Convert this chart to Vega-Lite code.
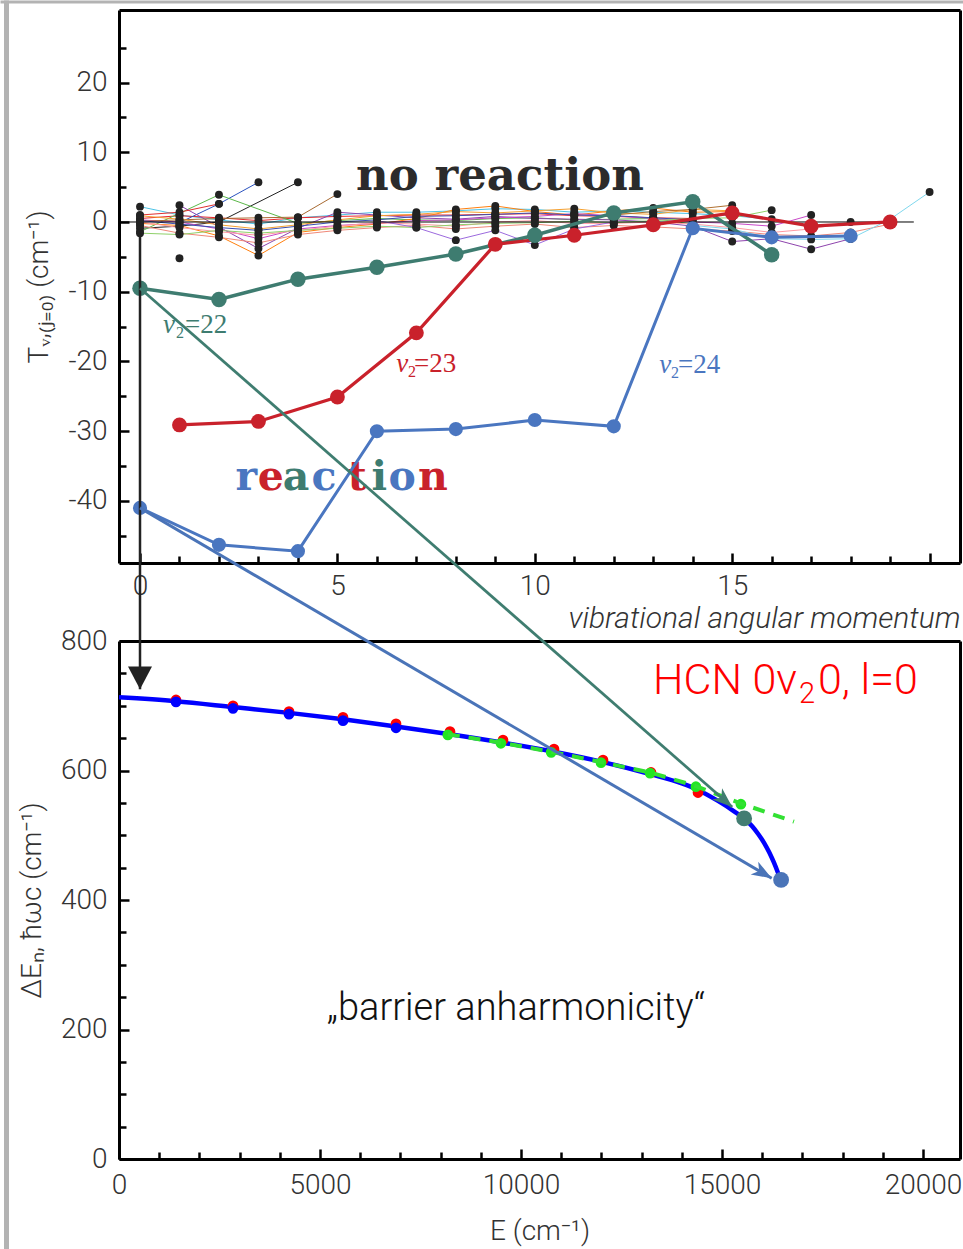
{
"$schema": "https://vega.github.io/schema/vega-lite/v6.json",
"width": 841, "height": 1149,
"autosize": {"type": "none"},
"padding": {"left": 119, "top": 10, "right": 3, "bottom": 90},
"background": "white",
"config": {
  "view": {"stroke": null},
  "axis": {"grid": false, "labelFont": "Roboto", "labelFontWeight": 300, "labelFontSize": 28, "labelColor": "#333333", "titleFont": "Roboto", "titleFontWeight": 300, "titleFontSize": 28, "titleColor": "#333333", "domainColor": "#000000", "domainWidth": 3, "tickColor": "#000000", "tickWidth": 2.5, "labelFlush": false, "labelOverlap": false}
},
"datasets": {
  "noise": [
    {"s":"c1","l":0,"T":2.2},{"s":"c1","l":1,"T":1.0},{"s":"c1","l":2,"T":0.3},{"s":"c1","l":3,"T":-0.3},{"s":"c1","l":4,"T":0.6},{"s":"c1","l":5,"T":1.0},{"s":"c1","l":6,"T":1.4},{"s":"c1","l":7,"T":1.4},{"s":"c1","l":8,"T":1.6},{"s":"c1","l":9,"T":1.9},{"s":"c1","l":10,"T":1.8},{"s":"c1","l":11,"T":1.4},{"s":"c1","l":12,"T":1.6},{"s":"c1","l":13,"T":1.4},{"s":"c1","l":14,"T":1.2},{"s":"c1","l":15,"T":0.9},{"s":"c1","l":16,"T":0.4},
    {"s":"r1","l":0,"T":0.5},{"s":"r1","l":1,"T":0.9},{"s":"r1","l":2,"T":0.6},{"s":"r1","l":3,"T":0.2},{"s":"r1","l":4,"T":0.6},{"s":"r1","l":5,"T":0.8},{"s":"r1","l":6,"T":0.9},{"s":"r1","l":7,"T":1.0},{"s":"r1","l":8,"T":1.0},{"s":"r1","l":9,"T":1.1},{"s":"r1","l":10,"T":1.2},{"s":"r1","l":11,"T":0.9},{"s":"r1","l":12,"T":0.8},{"s":"r1","l":13,"T":0.6},{"s":"r1","l":14,"T":0.5},
    {"s":"b1","l":1,"T":-0.1},{"s":"b1","l":2,"T":2.6},{"s":"b1","l":3,"T":5.7},
    {"s":"k1","l":0,"T":-0.9},{"s":"k1","l":1,"T":-0.6},{"s":"k1","l":2,"T":0.0},{"s":"k1","l":4,"T":5.7},
    {"s":"g1","l":0,"T":-1.4},{"s":"g1","l":2,"T":3.9},{"s":"g1","l":4,"T":-0.2},{"s":"g1","l":5,"T":0.2},{"s":"g1","l":6,"T":0.5},{"s":"g1","l":7,"T":0.3},{"s":"g1","l":8,"T":0.2},{"s":"g1","l":9,"T":0.5},{"s":"g1","l":10,"T":0.6},{"s":"g1","l":11,"T":0.3},{"s":"g1","l":12,"T":0.4},{"s":"g1","l":13,"T":0.5},{"s":"g1","l":14,"T":-0.3},
    {"s":"o1","l":0,"T":-0.2},{"s":"o1","l":1,"T":-0.5},{"s":"o1","l":2,"T":-2.0},{"s":"o1","l":3,"T":-4.8},{"s":"o1","l":4,"T":-1.5},{"s":"o1","l":5,"T":-0.8},{"s":"o1","l":6,"T":-0.3},{"s":"o1","l":7,"T":0.5},{"s":"o1","l":8,"T":1.8},{"s":"o1","l":9,"T":2.3},{"s":"o1","l":10,"T":1.5},{"s":"o1","l":11,"T":1.0},{"s":"o1","l":12,"T":1.6},{"s":"o1","l":13,"T":2.0},{"s":"o1","l":14,"T":1.4},{"s":"o1","l":15,"T":1.5},
    {"s":"p1","l":1,"T":2.4},{"s":"p1","l":3,"T":-3.8},{"s":"p1","l":4,"T":-0.9},{"s":"p1","l":5,"T":1.4},{"s":"p1","l":6,"T":1.0},{"s":"p1","l":7,"T":0.6},{"s":"p1","l":8,"T":0.4},{"s":"p1","l":9,"T":0.8},{"s":"p1","l":10,"T":0.5},{"s":"p1","l":11,"T":0.4},{"s":"p1","l":12,"T":0.3},{"s":"p1","l":13,"T":0.0},{"s":"p1","l":14,"T":-0.6},{"s":"p1","l":15,"T":-2.8},{"s":"p1","l":16,"T":-2.4},{"s":"p1","l":17,"T":-3.9},{"s":"p1","l":18,"T":-2.4},
    {"s":"m1","l":0,"T":0.3},{"s":"m1","l":1,"T":0.0},{"s":"m1","l":2,"T":-1.0},{"s":"m1","l":3,"T":-2.4},{"s":"m1","l":4,"T":-1.0},{"s":"m1","l":5,"T":-0.5},{"s":"m1","l":6,"T":-0.2},{"s":"m1","l":7,"T":0.2},{"s":"m1","l":8,"T":0.3},{"s":"m1","l":9,"T":0.6},{"s":"m1","l":10,"T":0.8},{"s":"m1","l":11,"T":1.2},{"s":"m1","l":12,"T":0.9},{"s":"m1","l":13,"T":0.5},{"s":"m1","l":14,"T":0.0},{"s":"m1","l":15,"T":-0.2},{"s":"m1","l":16,"T":-0.6},{"s":"m1","l":17,"T":1.0},
    {"s":"br","l":0,"T":0.1},{"s":"br","l":1,"T":0.3},{"s":"br","l":2,"T":0.5},{"s":"br","l":3,"T":0.6},{"s":"br","l":4,"T":0.7},{"s":"br","l":5,"T":4.0},
    {"s":"sa","l":0,"T":-0.5},{"s":"sa","l":1,"T":-1.6},{"s":"sa","l":2,"T":-2.2},{"s":"sa","l":3,"T":-3.0},{"s":"sa","l":4,"T":-1.8},{"s":"sa","l":5,"T":-1.2},{"s":"sa","l":6,"T":-0.8},{"s":"sa","l":7,"T":-0.5},{"s":"sa","l":8,"T":-1.0},{"s":"sa","l":9,"T":-0.6},{"s":"sa","l":10,"T":-0.3},{"s":"sa","l":11,"T":-0.8},{"s":"sa","l":12,"T":-0.5},{"s":"sa","l":13,"T":-0.7},{"s":"sa","l":14,"T":-1.0},{"s":"sa","l":15,"T":-1.3},{"s":"sa","l":16,"T":-1.8},{"s":"sa","l":17,"T":-2.0},{"s":"sa","l":18,"T":-1.5},{"s":"sa","l":19,"T":-0.3},
    {"s":"pk","l":0,"T":0.0},{"s":"pk","l":1,"T":-0.8},{"s":"pk","l":2,"T":-1.4},{"s":"pk","l":3,"T":-1.9},{"s":"pk","l":4,"T":-1.2},{"s":"pk","l":5,"T":-0.6},{"s":"pk","l":6,"T":-0.1},{"s":"pk","l":7,"T":-0.3},{"s":"pk","l":8,"T":-0.6},{"s":"pk","l":9,"T":0.0},{"s":"pk","l":10,"T":0.2},{"s":"pk","l":11,"T":-0.2},{"s":"pk","l":12,"T":-0.2},{"s":"pk","l":13,"T":0.0},{"s":"pk","l":14,"T":-0.3},{"s":"pk","l":15,"T":-0.8},{"s":"pk","l":16,"T":-1.5},{"s":"pk","l":17,"T":-1.0},{"s":"pk","l":18,"T":0.0},
    {"s":"db","l":0,"T":0.2},{"s":"db","l":1,"T":-0.3},{"s":"db","l":2,"T":-0.8},{"s":"db","l":3,"T":-1.2},{"s":"db","l":4,"T":-0.6},{"s":"db","l":5,"T":0.0},{"s":"db","l":6,"T":0.3},{"s":"db","l":7,"T":0.8},{"s":"db","l":8,"T":0.9},{"s":"db","l":9,"T":1.1},{"s":"db","l":10,"T":1.3},{"s":"db","l":11,"T":1.0},{"s":"db","l":12,"T":0.9},{"s":"db","l":13,"T":0.6},{"s":"db","l":14,"T":0.3},
    {"s":"lg","l":0,"T":-1.6},{"s":"lg","l":1,"T":-1.8},{"s":"lg","l":2,"T":-1.2},{"s":"lg","l":3,"T":-1.6},{"s":"lg","l":4,"T":-1.2},{"s":"lg","l":5,"T":-0.9},{"s":"lg","l":6,"T":-0.6},{"s":"lg","l":7,"T":-0.8},{"s":"lg","l":8,"T":-0.4},{"s":"lg","l":9,"T":-0.2},{"s":"lg","l":10,"T":-0.1},{"s":"lg","l":11,"T":0.1},{"s":"lg","l":12,"T":-0.1},{"s":"lg","l":13,"T":0.2},{"s":"lg","l":14,"T":0.5},{"s":"lg","l":15,"T":0.6},{"s":"lg","l":16,"T":1.7},
    {"s":"c2","l":14,"T":-0.5},{"s":"c2","l":15,"T":-1.0},{"s":"c2","l":16,"T":-2.4},{"s":"c2","l":17,"T":-2.5},{"s":"c2","l":18,"T":-2.4},{"s":"c2","l":19,"T":0.4},{"s":"c2","l":20,"T":4.3},
    {"s":"o2","l":0,"T":0.9},{"s":"o2","l":1,"T":0.4},{"s":"o2","l":2,"T":-0.4},{"s":"o2","l":3,"T":-1.0},{"s":"o2","l":4,"T":-0.4},{"s":"o2","l":5,"T":0.3},{"s":"o2","l":6,"T":0.9},{"s":"o2","l":7,"T":1.1},{"s":"o2","l":8,"T":1.5},{"s":"o2","l":9,"T":1.3},{"s":"o2","l":10,"T":1.6},{"s":"o2","l":11,"T":1.9},{"s":"o2","l":12,"T":1.3},{"s":"o2","l":13,"T":1.1},{"s":"o2","l":14,"T":1.8},{"s":"o2","l":15,"T":1.6},
    {"s":"r2","l":0,"T":1.0},{"s":"r2","l":1,"T":1.4},{"s":"r2","l":2,"T":2.6},
    {"s":"lv","l":6,"T":0.2},{"s":"lv","l":7,"T":-0.8},{"s":"lv","l":8,"T":-2.6},{"s":"lv","l":9,"T":-1.2},{"s":"lv","l":10,"T":-3.3},{"s":"lv","l":11,"T":-1.0},{"s":"lv","l":12,"T":0.0},
    {"s":"k2","l":1,"T":-5.2},
    {"s":"br2","l":12,"T":1.0},{"s":"br2","l":13,"T":1.5},{"s":"br2","l":14,"T":1.8},{"s":"br2","l":15,"T":2.4}
  ],
  "major": [
    {"s":"22","l":0,"T":-9.5},{"s":"22","l":2,"T":-11.1},{"s":"22","l":4,"T":-8.2},{"s":"22","l":6,"T":-6.5},{"s":"22","l":8,"T":-4.6},{"s":"22","l":10,"T":-1.9},{"s":"22","l":12,"T":1.3},{"s":"22","l":14,"T":2.9},{"s":"22","l":16,"T":-4.7},
    {"s":"23","l":1,"T":-29.1},{"s":"23","l":3,"T":-28.6},{"s":"23","l":5,"T":-25.1},{"s":"23","l":7,"T":-15.9},{"s":"23","l":9,"T":-3.2},{"s":"23","l":11,"T":-1.9},{"s":"23","l":13,"T":-0.4},{"s":"23","l":15,"T":1.3},{"s":"23","l":17,"T":-0.6},{"s":"23","l":19,"T":0.0},
    {"s":"24","l":0,"T":-41.0},{"s":"24","l":2,"T":-46.3},{"s":"24","l":4,"T":-47.2},{"s":"24","l":6,"T":-30.0},{"s":"24","l":8,"T":-29.7},{"s":"24","l":10,"T":-28.4},{"s":"24","l":12,"T":-29.3},{"s":"24","l":14,"T":-0.9},{"s":"24","l":16,"T":-2.2},{"s":"24","l":18,"T":-2.0}
  ],
  "curve": [
    {"E":0,"D":713},{"E":1418,"D":707},{"E":2836,"D":698},{"E":4229,"D":689},{"E":5572,"D":679},{"E":6891,"D":668},{"E":8234,"D":656},{"E":9552,"D":643},{"E":10821,"D":629},{"E":12040,"D":613},{"E":13234,"D":594},{"E":14000,"D":580},{"E":14403,"D":570},{"E":14900,"D":553},{"E":15300,"D":537},{"E":15550,"D":526},{"E":15750,"D":514},{"E":15900,"D":502},{"E":16050,"D":488},{"E":16180,"D":473},{"E":16290,"D":458},{"E":16380,"D":444},{"E":16470,"D":428}
  ],
  "pts": [
    {"k":"red","E":1418,"D":709},{"k":"red","E":2836,"D":700},{"k":"red","E":4229,"D":691},{"k":"red","E":5572,"D":682},{"k":"red","E":6891,"D":672},{"k":"red","E":8234,"D":660},{"k":"red","E":9552,"D":647},{"k":"red","E":10821,"D":633},{"k":"red","E":12040,"D":616},{"k":"red","E":13234,"D":597},{"k":"red","E":14403,"D":566},
    {"k":"blue","E":1418,"D":706},{"k":"blue","E":2836,"D":696},{"k":"blue","E":4229,"D":687},{"k":"blue","E":5572,"D":677},{"k":"blue","E":6891,"D":666},
    {"k":"green","E":8180,"D":655},{"k":"green","E":9500,"D":642},{"k":"green","E":10750,"D":628},{"k":"green","E":11990,"D":612},{"k":"green","E":13210,"D":596},{"k":"green","E":14350,"D":575},{"k":"green","E":15470,"D":548}
  ],
  "dash": [
    {"E":8180,"D":656},{"E":9500,"D":643},{"E":10750,"D":629},{"E":11990,"D":613},{"E":13210,"D":597},{"E":14350,"D":576},{"E":15470,"D":549},{"E":16790,"D":521}
  ],
  "big": [{"k":"teal","E":15550,"D":526},{"k":"blue","E":16470,"D":431}],
  "arrows": [
    {"a":"k","l":0,"T":-1.6,"l2":0,"T2":-67.0},
    {"a":"g","l":0,"T":-9.5,"l2":15.0,"T2":-83.9},
    {"a":"b","l":0,"T":-41.0,"l2":16.0,"T2":-94.1}
  ],
  "letters": [
    {"ch":"r","l":2.69,"T":-38.45,"c":"24"},{"ch":"e","l":3.31,"T":-38.45,"c":"23"},{"ch":"a","l":3.95,"T":-38.45,"c":"22"},{"ch":"c","l":4.66,"T":-38.45,"c":"24"},{"ch":"t","l":5.5,"T":-38.45,"c":"23"},{"ch":"i","l":6.06,"T":-38.45,"c":"22"},{"ch":"o","l":6.64,"T":-38.45,"c":"24"},{"ch":"n","l":7.42,"T":-38.45,"c":"23"}
  ],
  "vlab": [
    {"p":"v","txt":"v","l":0.58,"T":-15.9,"c":"22"},{"p":"s","txt":"2","l":0.91,"T":-16.6,"c":"22"},{"p":"e","txt":"=22","l":1.14,"T":-15.9,"c":"22"},
    {"p":"v","txt":"v","l":6.49,"T":-21.5,"c":"23"},{"p":"s","txt":"2","l":6.79,"T":-22.2,"c":"23"},{"p":"e","txt":"=23","l":6.94,"T":-21.5,"c":"23"},
    {"p":"v","txt":"v","l":13.15,"T":-21.7,"c":"24"},{"p":"s","txt":"2","l":13.45,"T":-22.4,"c":"24"},{"p":"e","txt":"=24","l":13.63,"T":-21.7,"c":"24"}
  ]
},
"resolve": {"scale": {"x": "independent", "y": "independent", "color": "independent", "size": "independent", "strokeWidth": "independent"}, "axis": {"x": "independent", "y": "independent"}},
"layer": [
  {
    "data": {"values": [{"l": 0, "T": 0}]},
    "mark": {"type": "point", "opacity": 0},
    "encoding": {
      "x": {"field": "l", "type": "quantitative", "scale": {"domain": [0, 1], "range": [-119, 844], "nice": false, "zero": false}, "axis": {"orient": "top", "offset": 8.5, "domainColor": "#b3b3b3", "domainWidth": 3, "ticks": false, "labels": false, "title": null}},
      "y": {"field": "T", "type": "quantitative", "scale": {"domain": [0, 1], "range": [1239, -10], "nice": false, "zero": false}, "axis": {"orient": "left", "offset": 113, "domainColor": "#b3b3b3", "domainWidth": 5, "ticks": false, "labels": false, "title": null}}
    }
  },
  {
    "data": {"name": "noise"},
    "mark": {"type": "point", "opacity": 0},
    "encoding": {
      "x": {"field": "l", "type": "quantitative", "scale": {"domain": [-0.532, 20.77], "range": [0, 841], "nice": false, "zero": false}, "axis": {"orient": "bottom", "offset": -596, "values": [1,2,3,4,6,7,8,9,11,12,13,14,16,17,18,19], "tickSize": -7, "labels": false, "domain": false, "title": null}},
      "y": {"field": "T", "type": "quantitative", "scale": {"domain": [-48.9, 30.4], "range": [553, 0], "nice": false, "zero": false}, "axis": {"orient": "left", "values": [25,15,5,-5,-15,-25,-35,-45], "tickSize": -7, "labels": false, "domain": false, "title": null}}
    }
  },
  {
    "data": {"name": "noise"},
    "mark": {"type": "point", "opacity": 0},
    "encoding": {
      "x": {"field": "l", "type": "quantitative", "scale": {"domain": [-0.532, 20.77], "range": [0, 841], "nice": false, "zero": false}, "axis": {"orient": "top", "ticks": false, "labels": false, "title": null}},
      "y": {"field": "T", "type": "quantitative", "scale": {"domain": [-48.9, 30.4], "range": [553, 0], "nice": false, "zero": false}, "axis": {"orient": "right", "ticks": false, "labels": false, "title": null}}
    }
  },
  {
    "data": {"name": "noise"},
    "mark": {"type": "line", "strokeWidth": 1},
    "encoding": {
      "x": {"field": "l", "type": "quantitative", "scale": {"domain": [-0.532, 20.77], "range": [0, 841], "nice": false, "zero": false}, "axis": {"orient": "bottom", "offset": -596, "values": [0,5,10,15,20], "tickSize": -10, "labelPadding": 19, "labelExpr": "datum.value == 20 ? '' : datum.label", "title": "vibrational angular momentum", "titleFontStyle": "italic", "titleFontSize": 30, "titleAnchor": "end", "titlePadding": 3}},
      "y": {"field": "T", "type": "quantitative", "scale": {"domain": [-48.9, 30.4], "range": [553, 0], "nice": false, "zero": false}, "axis": {"orient": "left", "values": [-40,-30,-20,-10,0,10,20], "tickSize": -10, "labelPadding": 22, "labelExpr": "replace(datum.label, '\u2212', '-')", "title": "T\u1d65,\u208d\u2c7c\u208c\u2080\u208e (cm\u207b\u00b9)", "titlePadding": 14}},
      "color": {"field": "s", "type": "nominal", "legend": null, "scale": {"domain": ["c1","r1","b1","k1","g1","o1","p1","m1","br","sa","pk","db","lg","c2","o2","r2","lv","k2","br2"], "range": ["#4cc3e6","#e8262d","#2a52be","#222222","#5cb84a","#ff7f0e","#8e44ad","#c848c8","#a86a32","#f08878","#ff9aa2","#3a4fb0","#8fd16a","#7fd8ee","#f5a030","#e03030","#9c6ade","#222222","#b07030"]}}
    }
  },
  {
    "data": {"values": [{"l": -0.532, "l2": 19.6, "T": 0}]},
    "mark": {"type": "rule", "color": "#000000", "strokeWidth": 1},
    "encoding": {
      "x": {"field": "l", "type": "quantitative", "scale": {"domain": [-0.532, 20.77], "range": [0, 841], "nice": false, "zero": false}, "axis": null},
      "x2": {"field": "l2"},
      "y": {"field": "T", "type": "quantitative", "scale": {"domain": [-48.9, 30.4], "range": [553, 0], "nice": false, "zero": false}, "axis": null}
    }
  },
  {
    "data": {"name": "noise"},
    "mark": {"type": "point", "filled": true, "color": "#222222", "size": 62, "opacity": 1},
    "encoding": {
      "x": {"field": "l", "type": "quantitative", "scale": {"domain": [-0.532, 20.77], "range": [0, 841], "nice": false, "zero": false}, "axis": null},
      "y": {"field": "T", "type": "quantitative", "scale": {"domain": [-48.9, 30.4], "range": [553, 0], "nice": false, "zero": false}, "axis": null}
    }
  },
  {
    "data": {"values": [{"txt": "no reaction", "l": 9.12, "T": 4.59}]},
    "mark": {"type": "text", "font": "DejaVu Serif", "fontWeight": "bold", "fontSize": 45, "color": "#2b2b2b", "align": "center", "baseline": "alphabetic"},
    "encoding": {
      "x": {"field": "l", "type": "quantitative", "scale": {"domain": [-0.532, 20.77], "range": [0, 841], "nice": false, "zero": false}, "axis": null},
      "y": {"field": "T", "type": "quantitative", "scale": {"domain": [-48.9, 30.4], "range": [553, 0], "nice": false, "zero": false}, "axis": null},
      "text": {"field": "txt"}
    }
  },
  {
    "data": {"name": "letters"},
    "mark": {"type": "text", "font": "DejaVu Serif", "fontWeight": "bold", "fontSize": 41, "align": "center", "baseline": "alphabetic"},
    "encoding": {
      "x": {"field": "l", "type": "quantitative", "scale": {"domain": [-0.532, 20.77], "range": [0, 841], "nice": false, "zero": false}, "axis": null},
      "y": {"field": "T", "type": "quantitative", "scale": {"domain": [-48.9, 30.4], "range": [553, 0], "nice": false, "zero": false}, "axis": null},
      "text": {"field": "ch"},
      "color": {"field": "c", "type": "nominal", "legend": null, "scale": {"domain": ["22","23","24"], "range": ["#3e7c70","#c9212b","#4a76c0"]}}
    }
  },
  {
    "data": {"name": "vlab"},
    "transform": [{"filter": "datum.p == 'v'"}],
    "mark": {"type": "text", "font": "Liberation Serif", "fontStyle": "italic", "fontSize": 27, "align": "left", "baseline": "alphabetic"},
    "encoding": {
      "x": {"field": "l", "type": "quantitative", "scale": {"domain": [-0.532, 20.77], "range": [0, 841], "nice": false, "zero": false}, "axis": null},
      "y": {"field": "T", "type": "quantitative", "scale": {"domain": [-48.9, 30.4], "range": [553, 0], "nice": false, "zero": false}, "axis": null},
      "text": {"field": "txt"},
      "color": {"field": "c", "type": "nominal", "legend": null, "scale": {"domain": ["22","23","24"], "range": ["#3e7c70","#c9212b","#4a76c0"]}}
    }
  },
  {
    "data": {"name": "vlab"},
    "transform": [{"filter": "datum.p == 's'"}],
    "mark": {"type": "text", "font": "Liberation Serif", "fontSize": 16, "align": "left", "baseline": "alphabetic"},
    "encoding": {
      "x": {"field": "l", "type": "quantitative", "scale": {"domain": [-0.532, 20.77], "range": [0, 841], "nice": false, "zero": false}, "axis": null},
      "y": {"field": "T", "type": "quantitative", "scale": {"domain": [-48.9, 30.4], "range": [553, 0], "nice": false, "zero": false}, "axis": null},
      "text": {"field": "txt"},
      "color": {"field": "c", "type": "nominal", "legend": null, "scale": {"domain": ["22","23","24"], "range": ["#3e7c70","#c9212b","#4a76c0"]}}
    }
  },
  {
    "data": {"name": "vlab"},
    "transform": [{"filter": "datum.p == 'e'"}],
    "mark": {"type": "text", "font": "Liberation Serif", "fontSize": 27, "align": "left", "baseline": "alphabetic"},
    "encoding": {
      "x": {"field": "l", "type": "quantitative", "scale": {"domain": [-0.532, 20.77], "range": [0, 841], "nice": false, "zero": false}, "axis": null},
      "y": {"field": "T", "type": "quantitative", "scale": {"domain": [-48.9, 30.4], "range": [553, 0], "nice": false, "zero": false}, "axis": null},
      "text": {"field": "txt"},
      "color": {"field": "c", "type": "nominal", "legend": null, "scale": {"domain": ["22","23","24"], "range": ["#3e7c70","#c9212b","#4a76c0"]}}
    }
  },
  {
    "data": {"name": "major"},
    "mark": {"type": "line"},
    "encoding": {
      "x": {"field": "l", "type": "quantitative", "scale": {"domain": [-0.532, 20.77], "range": [0, 841], "nice": false, "zero": false}, "axis": null},
      "y": {"field": "T", "type": "quantitative", "scale": {"domain": [-48.9, 30.4], "range": [553, 0], "nice": false, "zero": false}, "axis": null},
      "color": {"field": "s", "type": "nominal", "legend": null, "scale": {"domain": ["22","23","24"], "range": ["#3e7c70","#c9212b","#4a76c0"]}},
      "strokeWidth": {"field": "s", "type": "ordinal", "legend": null, "scale": {"domain": ["22","23","24"], "range": [3.5, 3, 2.6]}}
    }
  },
  {
    "data": {"name": "major"},
    "mark": {"type": "point", "filled": true, "opacity": 1},
    "encoding": {
      "x": {"field": "l", "type": "quantitative", "scale": {"domain": [-0.532, 20.77], "range": [0, 841], "nice": false, "zero": false}, "axis": null},
      "y": {"field": "T", "type": "quantitative", "scale": {"domain": [-48.9, 30.4], "range": [553, 0], "nice": false, "zero": false}, "axis": null},
      "color": {"field": "s", "type": "nominal", "legend": null, "scale": {"domain": ["22","23","24"], "range": ["#3e7c70","#c9212b","#4a76c0"]}},
      "size": {"field": "s", "type": "ordinal", "legend": null, "scale": {"domain": ["22","23","24"], "range": [240, 200, 170]}}
    }
  },
  {
    "data": {"name": "curve"},
    "mark": {"type": "point", "opacity": 0},
    "encoding": {
      "x": {"field": "E", "type": "quantitative", "scale": {"domain": [0, 20920], "range": [0, 841], "nice": false, "zero": false}, "axis": {"orient": "bottom", "values": [1000,2000,3000,4000,6000,7000,8000,9000,11000,12000,13000,14000,16000,17000,18000,19000], "tickSize": -7, "labels": false, "domain": false, "title": null}},
      "y": {"field": "D", "type": "quantitative", "scale": {"domain": [0, 800], "range": [1149, 631], "nice": false, "zero": false}, "axis": {"orient": "left", "values": [50,100,150,250,300,350,450,500,550,650,700,750], "tickSize": -7, "labels": false, "domain": false, "title": null}}
    }
  },
  {
    "data": {"name": "curve"},
    "mark": {"type": "point", "opacity": 0},
    "encoding": {
      "x": {"field": "E", "type": "quantitative", "scale": {"domain": [0, 20920], "range": [0, 841], "nice": false, "zero": false}, "axis": {"orient": "top", "offset": -631, "ticks": false, "labels": false, "title": null}},
      "y": {"field": "D", "type": "quantitative", "scale": {"domain": [0, 800], "range": [1149, 631], "nice": false, "zero": false}, "axis": {"orient": "right", "ticks": false, "labels": false, "title": null}}
    }
  },
  {
    "data": {"name": "curve"},
    "mark": {"type": "line", "color": "#0000ff", "strokeWidth": 4.5, "interpolate": "monotone"},
    "encoding": {
      "x": {"field": "E", "type": "quantitative", "scale": {"domain": [0, 20920], "range": [0, 841], "nice": false, "zero": false}, "axis": {"orient": "bottom", "values": [0,5000,10000,15000,20000], "format": "d", "tickSize": -10, "labelPadding": 22, "title": "E (cm\u207b\u00b9)", "titlePadding": 18}},
      "y": {"field": "D", "type": "quantitative", "scale": {"domain": [0, 800], "range": [1149, 631], "nice": false, "zero": false}, "axis": {"orient": "left", "values": [0,200,400,600,800], "format": "d", "tickSize": -10, "labelPadding": 22, "title": "\u0394E\u2099, \u0127\u03c9c (cm\u207b\u00b9)", "titlePadding": 14}}
    }
  },
  {
    "data": {"name": "pts"},
    "mark": {"type": "point", "filled": true, "opacity": 1, "size": 115},
    "encoding": {
      "x": {"field": "E", "type": "quantitative", "scale": {"domain": [0, 20920], "range": [0, 841], "nice": false, "zero": false}, "axis": null},
      "y": {"field": "D", "type": "quantitative", "scale": {"domain": [0, 800], "range": [1149, 631], "nice": false, "zero": false}, "axis": null},
      "color": {"field": "k", "type": "nominal", "legend": null, "scale": {"domain": ["red","blue","green"], "range": ["#ff0000","#0000ff","#22e622"]}},
      "order": {"field": "k", "sort": "descending"}
    }
  },
  {
    "data": {"name": "dash"},
    "mark": {"type": "line", "color": "#33e033", "strokeWidth": 4, "strokeDash": [12, 9]},
    "encoding": {
      "x": {"field": "E", "type": "quantitative", "scale": {"domain": [0, 20920], "range": [0, 841], "nice": false, "zero": false}, "axis": null},
      "y": {"field": "D", "type": "quantitative", "scale": {"domain": [0, 800], "range": [1149, 631], "nice": false, "zero": false}, "axis": null}
    }
  },
  {
    "data": {"name": "big"},
    "mark": {"type": "point", "filled": true, "opacity": 1, "size": 250},
    "encoding": {
      "x": {"field": "E", "type": "quantitative", "scale": {"domain": [0, 20920], "range": [0, 841], "nice": false, "zero": false}, "axis": null},
      "y": {"field": "D", "type": "quantitative", "scale": {"domain": [0, 800], "range": [1149, 631], "nice": false, "zero": false}, "axis": null},
      "color": {"field": "k", "type": "nominal", "legend": null, "scale": {"domain": ["teal","blue"], "range": ["#437d72","#4a74b8"]}}
    }
  },
  {
    "data": {"values": [{"txt": "HCN 0v", "E": 16866, "D": 717.5}]},
    "mark": {"type": "text", "font": "Roboto", "fontWeight": 300, "fontSize": 43, "color": "#ff0000", "align": "right", "baseline": "alphabetic"},
    "encoding": {
      "x": {"field": "E", "type": "quantitative", "scale": {"domain": [0, 20920], "range": [0, 841], "nice": false, "zero": false}, "axis": null},
      "y": {"field": "D", "type": "quantitative", "scale": {"domain": [0, 800], "range": [1149, 631], "nice": false, "zero": false}, "axis": null},
      "text": {"field": "txt"}
    }
  },
  {
    "data": {"values": [{"txt": "2", "E": 16915, "D": 705}]},
    "mark": {"type": "text", "font": "Roboto", "fontWeight": 300, "fontSize": 29, "color": "#ff0000", "align": "left", "baseline": "alphabetic"},
    "encoding": {
      "x": {"field": "E", "type": "quantitative", "scale": {"domain": [0, 20920], "range": [0, 841], "nice": false, "zero": false}, "axis": null},
      "y": {"field": "D", "type": "quantitative", "scale": {"domain": [0, 800], "range": [1149, 631], "nice": false, "zero": false}, "axis": null},
      "text": {"field": "txt"}
    }
  },
  {
    "data": {"values": [{"txt": "0, l=0", "E": 17388, "D": 717.5}]},
    "mark": {"type": "text", "font": "Roboto", "fontWeight": 300, "fontSize": 43, "color": "#ff0000", "align": "left", "baseline": "alphabetic"},
    "encoding": {
      "x": {"field": "E", "type": "quantitative", "scale": {"domain": [0, 20920], "range": [0, 841], "nice": false, "zero": false}, "axis": null},
      "y": {"field": "D", "type": "quantitative", "scale": {"domain": [0, 800], "range": [1149, 631], "nice": false, "zero": false}, "axis": null},
      "text": {"field": "txt"}
    }
  },
  {
    "data": {"values": [{"txt": "\u201ebarrier anharmonicity\u201c", "E": 9876, "D": 215}]},
    "mark": {"type": "text", "font": "Roboto", "fontWeight": 300, "fontSize": 38, "color": "#111111", "align": "center", "baseline": "alphabetic"},
    "encoding": {
      "x": {"field": "E", "type": "quantitative", "scale": {"domain": [0, 20920], "range": [0, 841], "nice": false, "zero": false}, "axis": null},
      "y": {"field": "D", "type": "quantitative", "scale": {"domain": [0, 800], "range": [1149, 631], "nice": false, "zero": false}, "axis": null},
      "text": {"field": "txt"}
    }
  },
  {
    "data": {"name": "arrows"},
    "mark": {"type": "rule"},
    "encoding": {
      "x": {"field": "l", "type": "quantitative", "scale": {"domain": [-0.532, 20.77], "range": [0, 841], "nice": false, "zero": false}, "axis": null},
      "y": {"field": "T", "type": "quantitative", "scale": {"domain": [-48.9, 30.4], "range": [553, 0], "nice": false, "zero": false}, "axis": null},
      "x2": {"field": "l2"},
      "y2": {"field": "T2"},
      "color": {"field": "a", "type": "nominal", "legend": null, "scale": {"domain": ["k","g","b"], "range": ["#222222","#3f7d70","#4a74b8"]}},
      "strokeWidth": {"field": "a", "type": "ordinal", "legend": null, "scale": {"domain": ["k","g","b"], "range": [2.5, 3, 3]}}
    }
  },
  {
    "data": {"name": "arrows"},
    "transform": [{"filter": "datum.a == 'k'"}],
    "mark": {"type": "point", "filled": true, "opacity": 1, "color": "#222222", "shape": "M0,0L-1,-1.9L1,-1.9Z", "size": 576, "strokeWidth": 0},
    "encoding": {
      "x": {"field": "l2", "type": "quantitative", "scale": {"domain": [-0.532, 20.77], "range": [0, 841], "nice": false, "zero": false}, "axis": null},
      "y": {"field": "T2", "type": "quantitative", "scale": {"domain": [-48.9, 30.4], "range": [553, 0], "nice": false, "zero": false}, "axis": null}
    }
  },
  {
    "data": {"name": "arrows"},
    "transform": [{"filter": "datum.a == 'g'"}],
    "mark": {"type": "point", "filled": true, "opacity": 1, "color": "#3f7d70", "shape": "M0,0L-0.75,-2L0,-1.45L0.75,-2Z", "size": 400, "angle": 311.2, "strokeWidth": 0},
    "encoding": {
      "x": {"field": "l2", "type": "quantitative", "scale": {"domain": [-0.532, 20.77], "range": [0, 841], "nice": false, "zero": false}, "axis": null},
      "y": {"field": "T2", "type": "quantitative", "scale": {"domain": [-48.9, 30.4], "range": [553, 0], "nice": false, "zero": false}, "axis": null}
    }
  },
  {
    "data": {"name": "arrows"},
    "transform": [{"filter": "datum.a == 'b'"}],
    "mark": {"type": "point", "filled": true, "opacity": 1, "color": "#4a74b8", "shape": "M0,0L-0.75,-2L0,-1.45L0.75,-2Z", "size": 400, "angle": 300.3, "strokeWidth": 0},
    "encoding": {
      "x": {"field": "l2", "type": "quantitative", "scale": {"domain": [-0.532, 20.77], "range": [0, 841], "nice": false, "zero": false}, "axis": null},
      "y": {"field": "T2", "type": "quantitative", "scale": {"domain": [-48.9, 30.4], "range": [553, 0], "nice": false, "zero": false}, "axis": null}
    }
  }
]
}
